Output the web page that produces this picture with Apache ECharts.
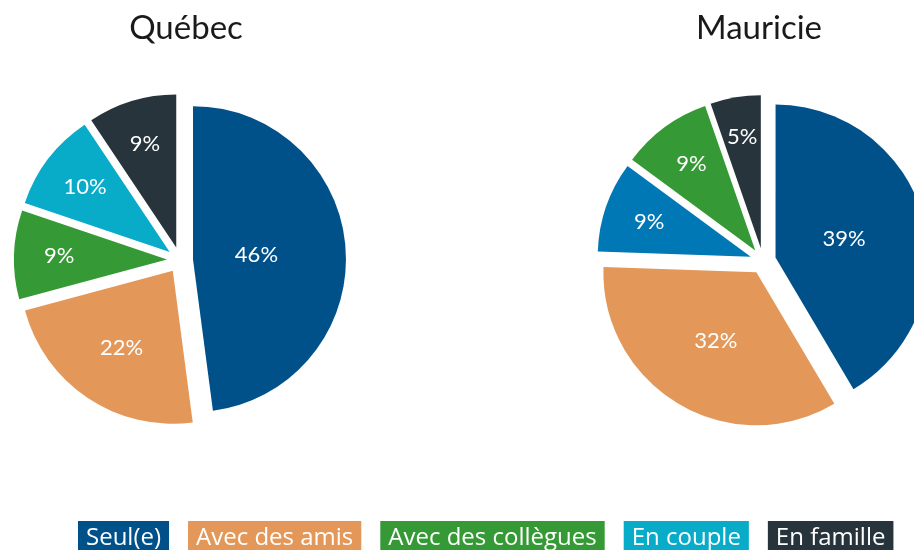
<!DOCTYPE html>
<html>
<head>
<meta charset="utf-8">
<script src="https://cdn.jsdelivr.net/npm/echarts@6/dist/echarts.min.js"></script>
<style>
    html, body {margin: 0; padding: 0; background: #fff;}
    #main {width: 914px; height: 550px;}
</style>
</head>
<body>
<div id="main"></div>
<script>
// catégories (légende)
const categories = ['Seul(e)', 'Avec des amis', 'Avec des collègues', 'En couple', 'En famille'];
// Québec, dans l'ordre des pointes
const quebecNames = ['Seul(e)', 'Avec des amis', 'Avec des collègues', 'En couple', 'En famille'];
const quebecValues = [46, 22, 9, 10, 9];
// Mauricie, dans l'ordre des pointes
const mauricieNames = ['Seul(e)', 'Avec des amis', 'En couple', 'Avec des collègues', 'En famille'];
const mauricieValues = [39, 32, 9, 9, 5];

const colors = {
    'Seul(e)': '#00518a',
    'Avec des amis': '#e3985a',
    'Avec des collègues': '#359a35',
    'En couple': '#08abc8',
    'En famille': '#27343b'
};
const mauricieCouple = '#0078b5';

let R = 153, OFF = 13;

function buildData(names, values, override) {
    return names.map(function(n, i) {
        return {
            name: n,
            value: values[i],
            selected: true,
            itemStyle: {color: (override && override[n]) || colors[n]}
        };
    });
}

// pousse les etiquettes vers l'exterieur pour les petites pointes
function labelMover(cx, cy, values) {
    let total = values.reduce(function(a, b) { return a + b; }, 0);
    return function(p) {
        let r = p.labelRect;
        let lx = r.x + r.width / 2, ly = r.y + r.height / 2;
        let vx = lx - cx, vy = ly - cy;
        let len = Math.sqrt(vx * vx + vy * vy) || 1;
        let s = values[p.dataIndex] / total;
        let dist = R * (0.86 - 0.75 * s) - OFF;   // le decalage de la pointe s'ajoute ensuite
        return {dx: cx + vx / len * dist - lx, dy: cy + vy / len * dist - ly};
    };
}

function pieSeries(name, center, names, values, override) {
    return {
        name: name,
        type: 'pie',
        center: center,
        radius: R,
        startAngle: 90,
        clockwise: true,
        selectedMode: 'multiple',
        selectedOffset: OFF,
        animation: false,
        label: {
            show: true,
            position: 'inside',
            formatter: '{c}%',
            color: '#fff',
            fontFamily: 'Lato',
            fontSize: 22
        },
        labelLine: {show: false},
        labelLayout: labelMover(center[0], center[1], values),
        emphasis: {disabled: true},
        data: buildData(names, values, override)
    };
}

let chart = echarts.init(document.getElementById('main'), null, {renderer: 'canvas'});
chart.setOption({
    backgroundColor: '#fff',
    animation: false,
    title: [
        {text: 'Québec', left: 181, top: 7, textAlign: 'center',
            textStyle: {fontFamily: 'Lato', fontWeight: 'normal', fontSize: 33, color: '#1a1a1a'}},
        {text: 'Mauricie', left: 754, top: 7, textAlign: 'center',
            textStyle: {fontFamily: 'Lato', fontWeight: 'normal', fontSize: 33, color: '#1a1a1a'}}
    ],
    legend: {
        left: 68,
        top: 516,
        itemGap: 14,
        itemWidth: 0,
        itemHeight: 0,
        icon: 'rect',
        selectedMode: false,
        data: categories.map(function(c) {
            return {
                name: c,
                textStyle: {
                    backgroundColor: colors[c],
                    color: '#fff',
                    fontFamily: 'Open Sans',
                    fontSize: 24,
                    padding: [3, 8, 8, 8]
                }
            };
        })
    },
    series: [
        pieSeries('Québec', [180, 260], quebecNames, quebecValues),
        pieSeries('Mauricie', [763, 261], mauricieNames, mauricieValues, {'En couple': mauricieCouple})
    ]
});
</script>
</body>
</html>
